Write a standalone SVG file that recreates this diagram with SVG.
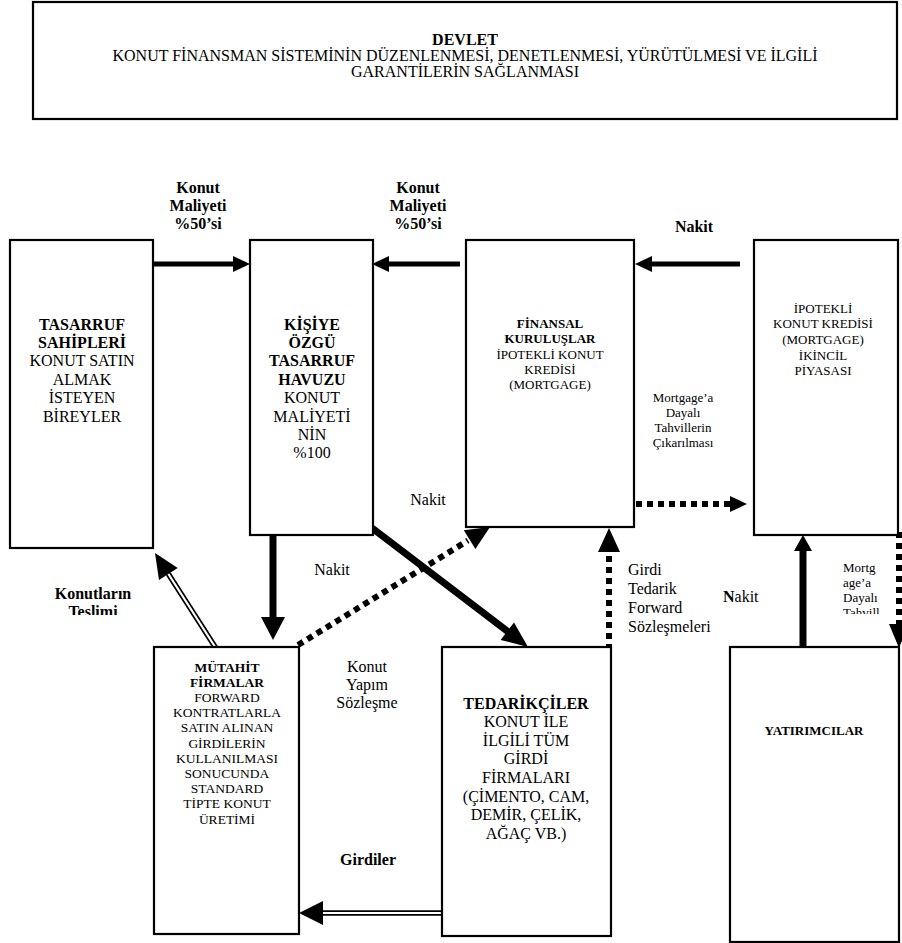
<svg xmlns="http://www.w3.org/2000/svg" width="902" height="943" viewBox="0 0 902 943">
<style>
text{font-family:"Liberation Serif","Times New Roman",serif;fill:#000}
.box{fill:#fff;stroke:#000;stroke-width:2.2}
.b{font-weight:bold}
.t16{font-size:16px}
.t13{font-size:13px}
.t135{font-size:13.5px}
.thick{stroke:#000;fill:none}
.dot{stroke:#000;stroke-width:6;stroke-dasharray:6 5;fill:none}
.head{fill:#000;stroke:none}
</style>
<defs>
<clipPath id="clipTeslimi"><rect x="0" y="570" width="200" height="45"/></clipPath>
<clipPath id="clipTahvil"><rect x="830" y="550" width="60" height="64"/></clipPath>
</defs>
<g id="connectors">
<line class="thick" x1="153" y1="264" x2="236" y2="264" stroke-width="5"/>
<polygon class="head" points="233,256 250,264 233,272"/>
<line class="thick" x1="460" y1="264" x2="387" y2="264" stroke-width="5"/>
<polygon class="head" points="389,256 372,264 389,272"/>
<line class="thick" x1="740" y1="264" x2="650" y2="264" stroke-width="5"/>
<polygon class="head" points="652,256 635,264 652,272"/>
<line class="thick" x1="273" y1="528" x2="273" y2="619" stroke-width="7"/>
<polygon class="head" points="261,617 285,617 273,640"/>
<line class="thick" x1="372" y1="528" x2="509" y2="632.5" stroke-width="7"/>
<polygon class="head" points="500.6,639.9 514,622.5 528,647"/>
<line class="dot" x1="298" y1="645" x2="468" y2="540.5"/>
<polygon class="head" points="463.8,530.2 475.4,549 490,527"/>
<line class="dot" x1="636" y1="504" x2="730" y2="504"/>
<polygon class="head" points="730,496 747,504 730,512"/>
<line class="dot" x1="609" y1="650" x2="609" y2="552"/>
<polygon class="head" points="598,552 620,552 609,528"/>
<line class="thick" x1="803" y1="647" x2="803" y2="549" stroke-width="7"/>
<polygon class="head" points="794,551 812,551 803,535"/>
<line class="dot" x1="899" y1="532" x2="899" y2="625"/>
<polygon class="head" points="889,624 909,624 899,648"/>
<line x1="219" y1="653" x2="168.4" y2="574" stroke="#000" stroke-width="5.5"/>
<line x1="219" y1="653" x2="168.4" y2="574" stroke="#fff" stroke-width="2.2"/>
<polygon class="head" points="177.7,568 159,580 155,553"/>
<line x1="443" y1="913" x2="321" y2="913" stroke="#000" stroke-width="5.5"/>
<line x1="443" y1="913" x2="321" y2="913" stroke="#fff" stroke-width="2.2"/>
<polygon class="head" points="323,901 323,925 299,913"/>
</g>
<g id="labels">
<text class="b t16" text-anchor="middle"><tspan x="198" y="193">Konut</tspan><tspan x="198" y="211">Maliyeti</tspan><tspan x="198" y="229">%50’si</tspan></text>
<text class="b t16" text-anchor="middle"><tspan x="418" y="193">Konut</tspan><tspan x="418" y="211">Maliyeti</tspan><tspan x="418" y="229">%50’si</tspan></text>
<text class="b t16" text-anchor="middle" x="694" y="232">Nakit</text>
<text class="t16" text-anchor="middle" x="428" y="505">Nakit</text>
<text class="t16" text-anchor="middle" x="332" y="575">Nakit</text>
<text class="t13" text-anchor="middle"><tspan x="683" y="402">Mortgage’a</tspan><tspan x="683" y="417">Dayalı</tspan><tspan x="683" y="432">Tahvillerin</tspan><tspan x="683" y="447">Çıkarılması</tspan></text>
<text class="t16"><tspan x="628" y="575">Girdi</tspan><tspan x="628" y="594">Tedarik</tspan><tspan x="628" y="613">Forward</tspan><tspan x="628" y="632">Sözleşmeleri</tspan></text>
<text class="t16" x="723" y="602"><tspan class="b">N</tspan>akit</text>
<text class="t13" clip-path="url(#clipTahvil)"><tspan x="843" y="572">Mortg</tspan><tspan x="843" y="587">age’a</tspan><tspan x="843" y="602">Dayalı</tspan><tspan x="843" y="617">Tahvill</tspan></text>
<text class="b t16" text-anchor="middle" clip-path="url(#clipTeslimi)"><tspan x="93" y="599">Konutların</tspan><tspan x="93" y="617">Teslimi</tspan></text>
<text class="t16" text-anchor="middle"><tspan x="367" y="672">Konut</tspan><tspan x="367" y="690">Yapım</tspan><tspan x="367" y="708">Sözleşme</tspan></text>
<text class="b t16" text-anchor="middle" x="368" y="865">Girdiler</text>
</g>
<g id="devlet">
<rect class="box" x="33" y="2" width="864" height="117" stroke-width="2.5"/>
<text class="t16" text-anchor="middle"><tspan class="b" x="465" y="45">DEVLET</tspan><tspan x="465" y="61">KONUT FİNANSMAN SİSTEMİNİN DÜZENLENMESİ, DENETLENMESİ, YÜRÜTÜLMESİ VE İLGİLİ</tspan><tspan x="465" y="77">GARANTİLERİN SAĞLANMASI</tspan></text>
</g>
<g id="tasarruf-sahipleri">
<rect class="box" x="10" y="240" width="143" height="308"/>
<text class="t16" text-anchor="middle"><tspan class="b" x="82" y="329.5">TASARRUF</tspan><tspan class="b" x="82" y="347.9">SAHİPLERİ</tspan><tspan x="82" y="366.3">KONUT SATIN</tspan><tspan x="82" y="384.7">ALMAK</tspan><tspan x="82" y="403.1">İSTEYEN</tspan><tspan x="82" y="421.5">BİREYLER</tspan></text>
</g>
<g id="tasarruf-havuzu">
<rect class="box" x="250" y="240" width="123" height="295"/>
<text class="t16" text-anchor="middle"><tspan class="b" x="312" y="329.5">KİŞİYE</tspan><tspan class="b" x="312" y="347.9">ÖZGÜ</tspan><tspan class="b" x="312" y="366.3">TASARRUF</tspan><tspan class="b" x="312" y="384.7">HAVUZU</tspan><tspan x="312" y="403.1">KONUT</tspan><tspan x="312" y="421.5">MALİYETİ</tspan><tspan x="312" y="439.9">NİN</tspan><tspan x="312" y="458.3">%100</tspan></text>
</g>
<g id="finansal-kuruluslar">
<rect class="box" x="466" y="240" width="168" height="287"/>
<text class="t13" text-anchor="middle"><tspan class="b" x="550" y="328">FİNANSAL</tspan><tspan class="b" x="550" y="343.3">KURULUŞLAR</tspan><tspan x="550" y="358.6">İPOTEKLİ KONUT</tspan><tspan x="550" y="373.9">KREDİSİ</tspan><tspan x="550" y="389.2">(MORTGAGE)</tspan></text>
</g>
<g id="ikincil-piyasa">
<rect class="box" x="754" y="240" width="144" height="295"/>
<text class="t13" text-anchor="middle"><tspan x="823" y="312.5">İPOTEKLİ</tspan><tspan x="823" y="328.2">KONUT KREDİSİ</tspan><tspan x="823" y="343.9">(MORTGAGE)</tspan><tspan x="823" y="359.6">İKİNCİL</tspan><tspan x="823" y="375.3">PİYASASI</tspan></text>
</g>
<g id="mutahit-firmalar">
<rect class="box" x="154" y="647" width="145" height="287"/>
<text class="t135" text-anchor="middle"><tspan class="b" x="227" y="671.5">MÜTAHİT</tspan><tspan class="b" x="227" y="686.7">FİRMALAR</tspan><tspan x="227" y="701.9">FORWARD</tspan><tspan x="227" y="717.1">KONTRATLARLA</tspan><tspan x="227" y="732.3">SATIN ALINAN</tspan><tspan x="227" y="747.5">GİRDİLERİN</tspan><tspan x="227" y="762.7">KULLANILMASI</tspan><tspan x="227" y="777.9">SONUCUNDA</tspan><tspan x="227" y="793.1">STANDARD</tspan><tspan x="227" y="808.3">TİPTE KONUT</tspan><tspan x="227" y="823.5">ÜRETİMİ</tspan></text>
</g>
<g id="tedarikciler">
<rect class="box" x="442" y="647" width="169" height="289"/>
<text class="t16" text-anchor="middle"><tspan class="b" x="526" y="708.5">TEDARİKÇİLER</tspan><tspan x="526" y="727.1">KONUT İLE</tspan><tspan x="526" y="745.7">İLGİLİ TÜM</tspan><tspan x="526" y="764.3">GİRDİ</tspan><tspan x="526" y="782.9">FİRMALARI</tspan><tspan x="526" y="801.5">(ÇİMENTO, CAM,</tspan><tspan x="526" y="820.1">DEMİR, ÇELİK,</tspan><tspan x="526" y="838.7">AĞAÇ  VB.)</tspan></text>
</g>
<g id="yatirimcilar">
<rect class="box" x="730" y="647" width="169" height="295"/>
<text class="b t13" text-anchor="middle" x="814" y="734.5">YATIRIMCILAR</text>
</g>
</svg>
